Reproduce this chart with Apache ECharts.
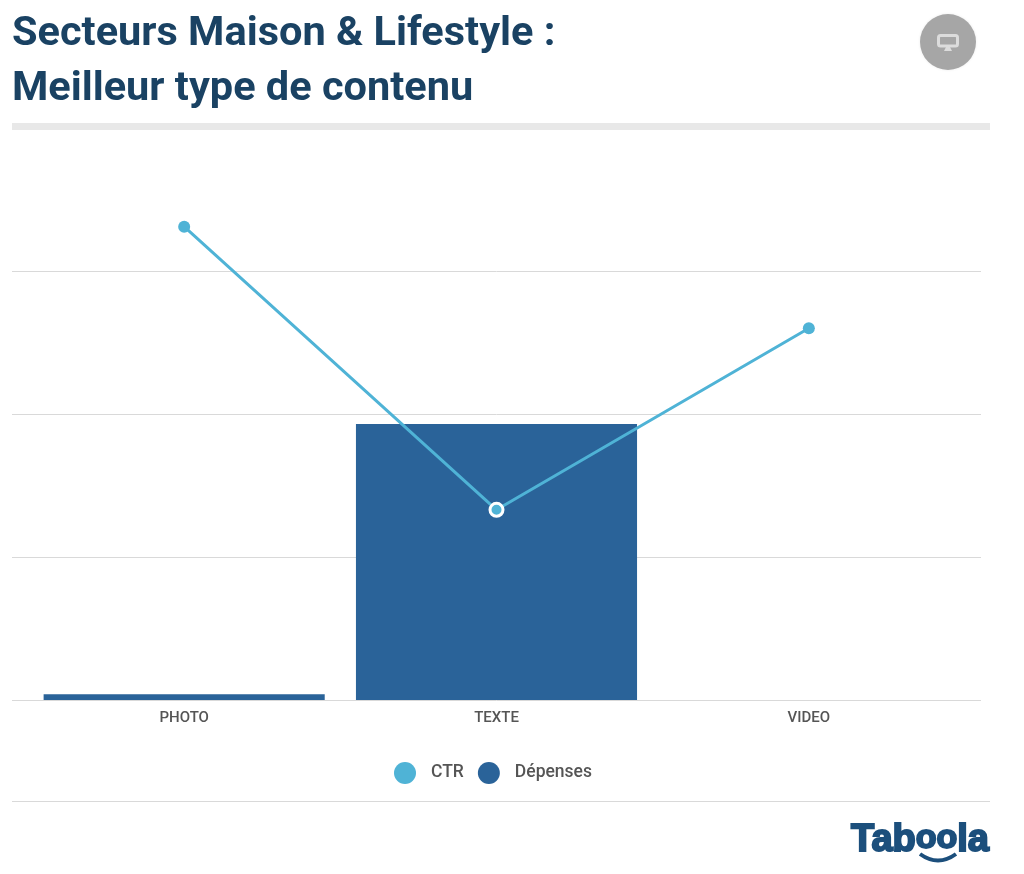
<!DOCTYPE html>
<html>
<head>
<meta charset="utf-8">
<title>Meilleur type de contenu</title>
<style>
html, body { margin: 0; padding: 0; background: #fff; }
#chart { width: 1024px; height: 874px; }
</style>
<script src="https://cdn.jsdelivr.net/npm/echarts@6/dist/echarts.min.js"></script>
</head>
<body>
<div id="chart"></div>
<script>
var categories = ['PHOTO', 'TEXTE', 'VIDEO'];
var ctr_values = [3.31, 1.33, 2.6];
var depenses_values = [0.04, 1.93, 0];

var chart = echarts.init(document.getElementById('chart'));

var ctr_color = '#4fb3d6';
var depenses_color = '#2a6399';
var text_color = '#555555';
var logo_color = '#1c4f7c';
var font = 'Roboto';

chart.setOption({
    animation: false,
    textStyle: { fontFamily: font },
    title: {
        text: 'Secteurs Maison & Lifestyle :\nMeilleur type de contenu',
        left: 7,
        top: 2,
        textStyle: {
            color: '#1a4263',
            fontFamily: font,
            fontWeight: 'bold',
            fontSize: 41.5,
            lineHeight: 55
        }
    },
    legend: {
        left: 389,
        top: 757,
        itemWidth: 22,
        itemHeight: 22,
        itemGap: 14,
        data: [
            { name: 'CTR', icon: 'circle' },
            { name: 'Dépenses', icon: 'circle' }
        ],
        textStyle: { color: text_color, fontSize: 17.5, fontWeight: 500, fontFamily: font, padding: [2, 0, 0, 10] }
    },
    // first grid only carries the long gridlines, the second one the data
    grid: [
        { left: 12, right: 43, top: 128, bottom: 174 },
        { left: 28, right: 59, top: 128, bottom: 174 }
    ],
    xAxis: [
        {
            gridIndex: 0,
            type: 'value',
            min: 0,
            max: 1,
            axisLabel: { show: false },
            axisTick: { show: false },
            axisLine: { show: false },
            splitLine: { show: false }
        },
        {
            gridIndex: 1,
            type: 'category',
            data: categories,
            axisTick: { show: false },
            axisLine: { show: false },
            axisLabel: { color: text_color, fontSize: 15, fontWeight: 500, margin: 11, fontFamily: font }
        }
    ],
    yAxis: [
        {
            gridIndex: 0,
            type: 'value',
            min: 0,
            max: 4,
            interval: 1,
            axisLabel: { show: false },
            axisTick: { show: false },
            axisLine: { show: false },
            splitLine: { show: true, showMaxLine: false, lineStyle: { color: '#d9d9d9', width: 1 } }
        },
        {
            gridIndex: 1,
            type: 'value',
            min: 0,
            max: 4,
            interval: 1,
            axisLabel: { show: false },
            axisTick: { show: false },
            axisLine: { show: false },
            splitLine: { show: false }
        }
    ],
    series: [
        {
            name: 'Dépenses',
            type: 'bar',
            xAxisIndex: 1,
            yAxisIndex: 1,
            barWidth: '90%',
            itemStyle: { color: depenses_color },
            data: depenses_values
        },
        {
            name: 'CTR',
            type: 'line',
            xAxisIndex: 1,
            yAxisIndex: 1,
            z: 5,
            symbol: 'circle',
            symbolSize: 12,
            itemStyle: { color: ctr_color },
            lineStyle: { color: ctr_color, width: 3 },
            data: ctr_values.map(function (v, i) {
                if (i == 1) {
                    return { value: v, symbolSize: 13, itemStyle: { color: ctr_color, borderColor: '#fff', borderWidth: 3 } };
                }
                return v;
            })
        }
    ],
    graphic: [
        { type: 'rect', shape: { x: 12, y: 123, width: 978, height: 7 }, style: { fill: '#e8e8e8' } },
        { type: 'rect', shape: { x: 12, y: 801, width: 978, height: 1 }, style: { fill: '#d9d9d9' } },
        // device button
        {
            type: 'circle',
            shape: { cx: 948, cy: 42, r: 28 },
            style: { fill: '#a6a6a6', shadowBlur: 3, shadowColor: 'rgba(0,0,0,0.08)' }
        },
        { type: 'rect', shape: { x: 938.5, y: 35.5, width: 19, height: 10.5, r: 2 }, style: { fill: '#a6a6a6', stroke: '#dcdcdc', lineWidth: 3 } },
        { type: 'polygon', shape: { points: [[944, 51], [952, 51], [950, 47], [946, 47]] }, style: { fill: '#dcdcdc' } },
        // logo
        {
            type: 'text',
            x: 851,
            y: 822,
            style: {
                text: '{a|Tab}{b|oo}{a|la}',
                rich: {
                    a: { font: 'bold 38px "Liberation Sans"', fill: logo_color, stroke: logo_color, lineWidth: 2, verticalAlign: 'bottom' },
                    b: { font: 'bold 34px "Liberation Sans"', fill: logo_color, stroke: logo_color, lineWidth: 2, verticalAlign: 'bottom', padding: [0, 0, 4, 0] }
                }
            }
        },
        {
            type: 'bezierCurve',
            shape: { x1: 920, y1: 854, cpx1: 938, cpy1: 867, x2: 956, y2: 854 },
            style: { stroke: logo_color, lineWidth: 4, fill: 'none' }
        }
    ]
});
</script>
</body>
</html>
